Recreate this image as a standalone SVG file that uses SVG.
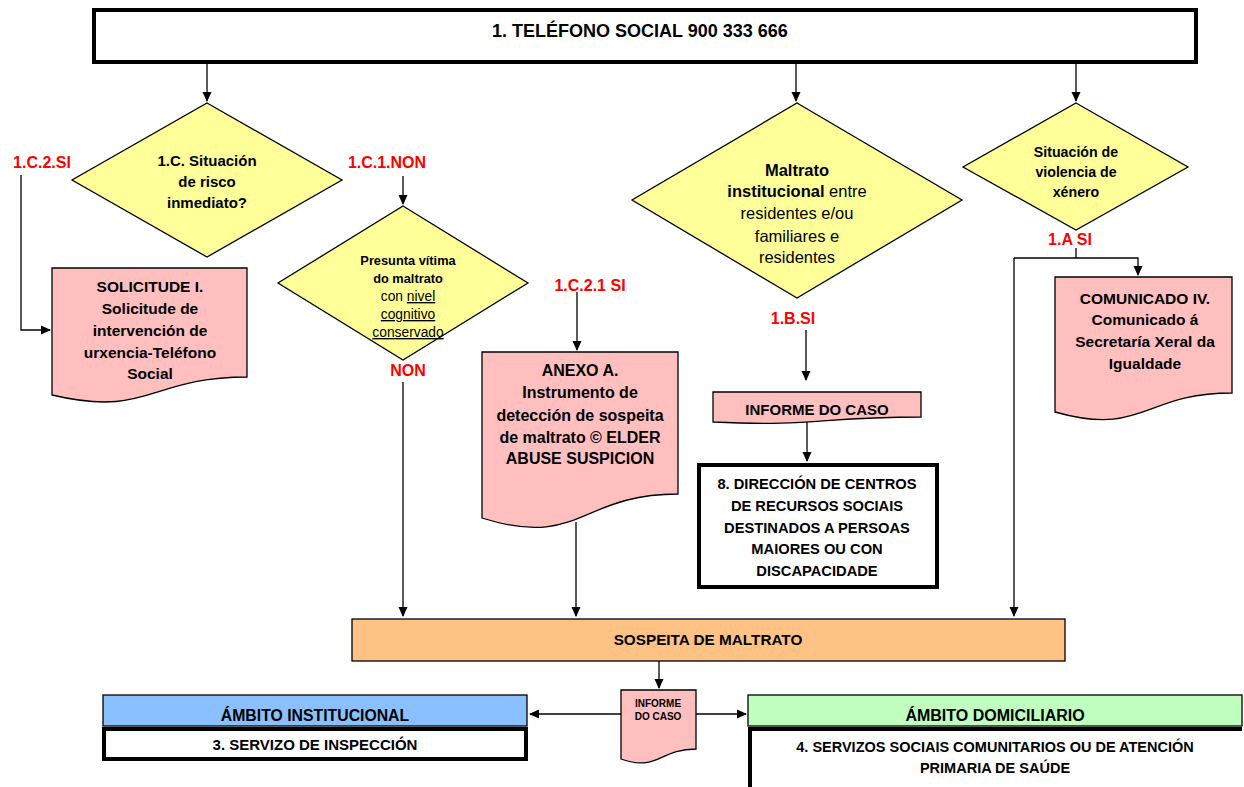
<svg xmlns="http://www.w3.org/2000/svg" width="1244" height="787" viewBox="0 0 1244 787">
<defs>
<marker id="ah" markerWidth="10" markerHeight="10" refX="9" refY="5" orient="auto" markerUnits="userSpaceOnUse">
<path d="M0,0.5 L10,5 L0,9.5 Z" fill="#000"/>
</marker>
</defs>
<style>
text{font-family:"Liberation Sans",Arial,sans-serif;fill:#000;text-anchor:middle;}
.b{font-weight:bold;}
.red{fill:#FF0000;font-weight:bold;font-size:16px;}
.dia{fill:#FFFF99;stroke:#000;stroke-width:1.3;}
.doc{fill:#FFBFBF;stroke:#000;stroke-width:1.3;}
.thick{fill:#fff;stroke:#000;stroke-width:4;}
.con{fill:none;stroke:#000;stroke-width:1.3;}
</style>
<rect width="1244" height="787" fill="#fff"/>

<g id="connectors">
<path class="con" d="M207 62 V101" marker-end="url(#ah)"/>
<path class="con" d="M796 62 V101" marker-end="url(#ah)"/>
<path class="con" d="M1076 62 V101" marker-end="url(#ah)"/>
<path class="con" d="M21 175 V330 H50" marker-end="url(#ah)"/>
<path class="con" d="M403 176 V204" marker-end="url(#ah)"/>
<path class="con" d="M403 382 V616" marker-end="url(#ah)"/>
<path class="con" d="M577 292 V350" marker-end="url(#ah)"/>
<path class="con" d="M576 522 V616" marker-end="url(#ah)"/>
<path class="con" d="M806 330 V380" marker-end="url(#ah)"/>
<path class="con" d="M807 422 V461" marker-end="url(#ah)"/>
<path class="con" d="M1076 248 V258"/>
<path class="con" d="M1014 258 H1138 V275" marker-end="url(#ah)"/>
<path class="con" d="M1014 258 V616" marker-end="url(#ah)"/>
<path class="con" d="M659 660 V688" marker-end="url(#ah)"/>
<path class="con" d="M621 714 H530" marker-end="url(#ah)"/>
<path class="con" d="M696 714 H746" stroke="#555" marker-end="url(#ah)"/>
</g>

<g id="telefono">
<rect class="thick" x="94" y="10" width="1102" height="52"/>
<text class="b" x="640" y="37" font-size="18">1. TELÉFONO SOCIAL 900 333 666</text>
</g>

<g id="risco">
<polygon class="dia" points="207,103 342,180 207,257 72,180"/>
<text class="b" font-size="15"><tspan x="207" y="166">1.C. Situación</tspan><tspan x="207" y="187">de risco</tspan><tspan x="207" y="208">inmediato?</tspan></text>
</g>

<g id="label-1c2si"><text class="red" x="42" y="168">1.C.2.SI</text></g>

<g id="solicitude">
<path class="doc" d="M52 268 H247 V377 C149.5 377 149.5 418 52 395 Z"/>
<text class="b" font-size="15.5"><tspan x="150" y="292">SOLICITUDE I.</tspan><tspan x="150" y="314">Solicitude de</tspan><tspan x="150" y="336">intervención de</tspan><tspan x="150" y="358">urxencia-Teléfono</tspan><tspan x="150" y="379">Social</tspan></text>
</g>

<g id="label-1c1non"><text class="red" x="387" y="168">1.C.1.NON</text></g>

<g id="presunta">
<polygon class="dia" points="403,206 528,283 403,360 278,283"/>
<text font-size="12.8"><tspan class="b" x="408" y="265">Presunta vítima</tspan><tspan class="b" x="408" y="283">do maltrato</tspan></text>
<text font-size="13.8"><tspan x="408" y="301">con <tspan text-decoration="underline">nivel</tspan></tspan><tspan x="408" y="319" text-decoration="underline">cognitivo</tspan><tspan x="408" y="337" text-decoration="underline">conservado</tspan></text>
</g>

<g id="label-non"><text class="red" x="408" y="376">NON</text></g>

<g id="label-1c21si"><text class="red" x="590" y="291">1.C.2.1 SI</text></g>

<g id="anexo">
<path class="doc" d="M482 352 H678 V494 C580 494 580 549 482 518 Z"/>
<text class="b" font-size="16"><tspan x="580" y="376">ANEXO A.</tspan><tspan x="580" y="398">Instrumento de</tspan><tspan x="580" y="421">detección de sospeita</tspan><tspan x="580" y="443">de maltrato  © ELDER</tspan><tspan x="580" y="464">ABUSE SUSPICION</tspan></text>
</g>

<g id="maltrato">
<polygon class="dia" points="797,103 962,200 797,298 632,200"/>
<text font-size="16.5"><tspan class="b" x="797" y="176">Maltrato</tspan><tspan x="797" y="197"><tspan class="b">institucional</tspan> entre</tspan><tspan x="797" y="219">residentes e/ou</tspan><tspan x="797" y="242">familiares e</tspan><tspan x="797" y="263">residentes</tspan></text>
</g>

<g id="label-1bsi"><text class="red" x="793" y="324">1.B.SI</text></g>

<g id="informe1">
<path class="doc" d="M713 392 H921 V417 C817 417 817 427 713 422 Z"/>
<text class="b" font-size="15" x="817" y="415">INFORME DO CASO</text>
</g>

<g id="direccion">
<rect class="thick" x="699" y="465" width="238" height="122"/>
<text class="b" font-size="14.7"><tspan x="817" y="489">8. DIRECCIÓN DE CENTROS</tspan><tspan x="817" y="511">DE RECURSOS SOCIAIS</tspan><tspan x="817" y="533">DESTINADOS A PERSOAS</tspan><tspan x="817" y="554">MAIORES OU CON</tspan><tspan x="817" y="576">DISCAPACIDADE</tspan></text>
</g>

<g id="violencia">
<polygon class="dia" points="1076,103 1188,167 1076,230 963,167"/>
<text class="b" font-size="14.2"><tspan x="1076" y="157">Situación de</tspan><tspan x="1076" y="177">violencia de</tspan><tspan x="1076" y="197">xénero</tspan></text>
</g>

<g id="label-1asi"><text class="red" x="1070" y="245">1.A SI</text></g>

<g id="comunicado">
<path class="doc" d="M1055 277 H1232 V393 C1143.5 393 1143.5 437 1055 412 Z"/>
<text class="b" font-size="15.5"><tspan x="1145" y="304">COMUNICADO IV.</tspan><tspan x="1145" y="325">Comunicado á</tspan><tspan x="1145" y="347">Secretaría Xeral da</tspan><tspan x="1145" y="369">Igualdade</tspan></text>
</g>

<g id="sospeita">
<rect x="352" y="619" width="713" height="42" fill="#FFC285" stroke="#000" stroke-width="1.3"/>
<text class="b" font-size="15.3" x="708" y="645">SOSPEITA DE MALTRATO</text>
</g>

<g id="informe2">
<path class="doc" d="M621 690 H696 V749 C658.5 749 658.5 772 621 759 Z"/>
<text class="b" font-size="10"><tspan x="658" y="707">INFORME</tspan><tspan x="658" y="720">DO CASO</tspan></text>
</g>

<g id="institucional">
<rect x="103" y="695" width="424" height="31" fill="#8AC0FF" stroke="#000" stroke-width="1.3"/>
<text class="b" font-size="15.8" x="315" y="721">ÁMBITO INSTITUCIONAL</text>
</g>

<g id="inspeccion">
<rect class="thick" x="104" y="729" width="422" height="30"/>
<text class="b" font-size="15" x="315" y="750">3. SERVIZO DE INSPECCIÓN</text>
</g>

<g id="domiciliario">
<rect x="748" y="695" width="494" height="31" fill="#C0FFC0" stroke="#000" stroke-width="1.3"/>
<text class="b" font-size="16" x="995" y="721">ÁMBITO DOMICILIARIO</text>
</g>

<g id="servizos">
<path d="M750 789 V729 H1242" fill="#fff" stroke="#000" stroke-width="4"/>
<rect x="752" y="731" width="490" height="60" fill="#fff"/>
<text class="b" font-size="14.5"><tspan x="995" y="752">4. SERVIZOS SOCIAIS COMUNITARIOS OU DE ATENCIÓN</tspan><tspan x="995" y="773">PRIMARIA DE SAÚDE</tspan></text>
</g>
</svg>
